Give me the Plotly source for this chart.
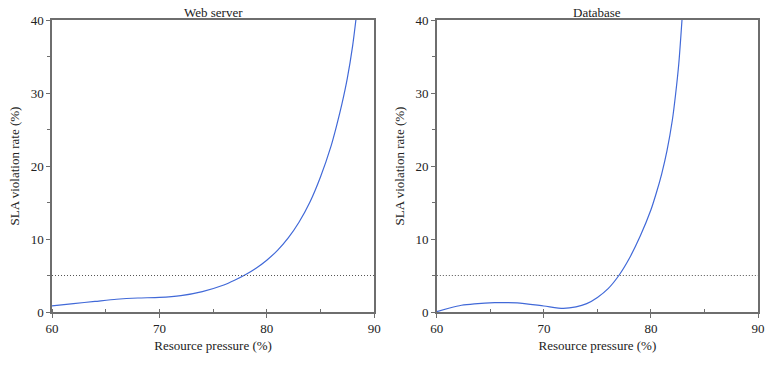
import plotly.graph_objects as go

web_x = [60, 62, 64, 66, 68, 70, 72, 74, 76, 77, 78, 79, 80, 81, 82, 83, 84, 85, 86, 86.5, 87, 87.5, 88, 88.3]
web_y = [0.85, 1.15, 1.45, 1.75, 1.92, 2.0, 2.25, 2.8, 3.7, 4.35, 5.1, 6.0, 7.1, 8.45, 10.15, 12.3, 15.0, 18.5, 22.8, 25.5, 28.5, 32.0, 36.5, 40.0]

db_x = [60, 61.2, 62.3, 63.5, 65.4, 67.5, 70.0, 71.8, 73.0, 74.0, 75.0, 76.0, 77.0, 78.0, 79.0, 80.0, 80.5, 81.0, 81.5, 82.0, 82.3, 82.6, 82.9]
db_y = [0.05, 0.55, 0.92, 1.12, 1.28, 1.25, 0.82, 0.5, 0.7, 1.15, 2.0, 3.2, 5.0, 7.4, 10.4, 14.0, 16.3, 18.9, 22.1, 26.3, 29.8, 34.0, 40.0]

threshold = 5
x_range = [60, 90]
y_range = [0, 40]
titles = ["Web server", "Database"]

font_family = "Liberation Serif"
axis_color = "#6e6e6e"
line_color = "#4169d8"
text_color = "#222222"

fig = go.Figure()
for xs, ys, xa, ya in [(web_x, web_y, "x", "y"), (db_x, db_y, "x2", "y2")]:
    fig.add_trace(go.Scatter(x=xs, y=ys, mode="lines",
                             line=dict(color=line_color, width=1.2, shape="spline", smoothing=0.7),
                             xaxis=xa, yaxis=ya, showlegend=False, cliponaxis=True))
    fig.add_trace(go.Scatter(x=x_range, y=[threshold, threshold], mode="lines",
                             line=dict(color="#555555", width=1, dash="1px,2px"),
                             xaxis=xa, yaxis=ya, showlegend=False))

common_x = dict(range=x_range, dtick=10, showgrid=False, zeroline=False, showline=True, linecolor=axis_color,
                linewidth=1.5, mirror=True, ticks="outside", ticklen=4, tickcolor=axis_color, tickwidth=1,
                minor=dict(dtick=5, ticks="inside", ticklen=3, tickcolor=axis_color),
                tickfont=dict(family=font_family, size=13, color=text_color),
                title=dict(text="Resource pressure (%)", font=dict(family=font_family, size=13, color=text_color), standoff=6))
common_y = dict(range=y_range, dtick=10, showgrid=False, zeroline=False, showline=True, linecolor=axis_color,
                linewidth=1.5, mirror=True, ticks="outside", ticklen=4, tickcolor=axis_color, tickwidth=1,
                minor=dict(dtick=5, ticks="outside", ticklen=3, tickcolor=axis_color),
                tickfont=dict(family=font_family, size=13, color=text_color),
                title=dict(text="SLA violation rate (%)", font=dict(family=font_family, size=13, color=text_color), standoff=8))

fig.update_layout(
    width=777, height=366,
    margin=dict(l=52, r=15, t=20, b=54),
    plot_bgcolor="white", paper_bgcolor="white",
    xaxis=dict(domain=[0, 0.4563], anchor="y", **common_x),
    yaxis=dict(domain=[0, 1], anchor="x", **common_y),
    xaxis2=dict(domain=[0.5451, 1.0], anchor="y2", **common_x),
    yaxis2=dict(domain=[0, 1], anchor="x2", **common_y),
    annotations=[
        dict(text=titles[0], x=0.4563 / 2, y=1, xref="paper", yref="paper", xanchor="center", yanchor="bottom",
             showarrow=False, font=dict(family=font_family, size=13, color=text_color), yshift=-2),
        dict(text=titles[1], x=(0.5451 + 1.0) / 2, y=1, xref="paper", yref="paper", xanchor="center", yanchor="bottom",
             showarrow=False, font=dict(family=font_family, size=13, color=text_color), yshift=-2),
    ],
)

fig.write_html("out.html")
